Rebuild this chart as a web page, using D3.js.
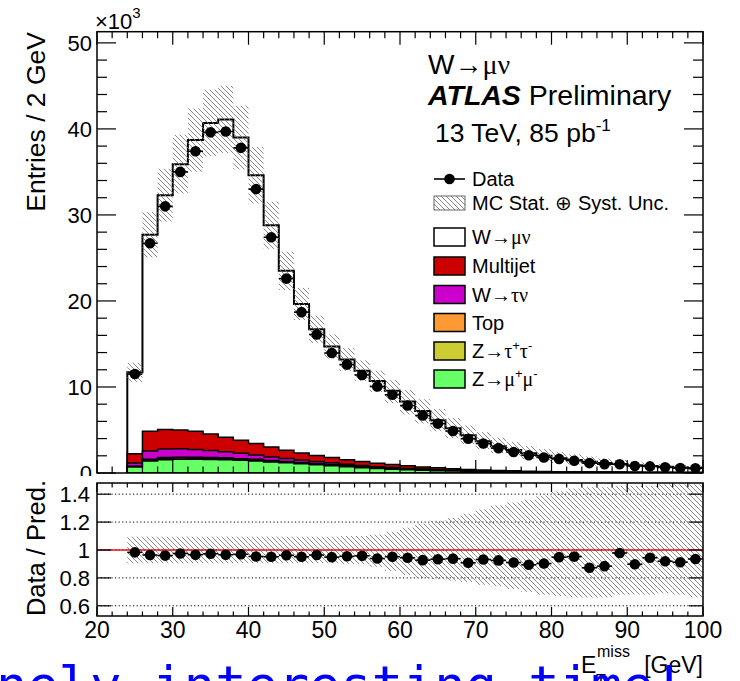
<!DOCTYPE html>
<html>
<head>
<meta charset="utf-8">
<script src="https://cdn.jsdelivr.net/npm/d3@7"></script>
<style>
  body { margin: 0; background: #fff; }
  svg { display: block; font-family: "Liberation Sans", Arial, Helvetica, sans-serif; }
</style>
</head>
<body>
<svg id="chart" width="740" height="681"></svg>
<script>
// ---- binning: 2 GeV bins of E_T^miss, lower edges ----
const binLow = [24, 26, 28, 30, 32, 34, 36, 38, 40, 42, 44, 46, 48, 50, 52, 54, 56, 58, 60,
                62, 64, 66, 68, 70, 72, 74, 76, 78, 80, 82, 84, 86, 88, 90, 92, 94, 96, 98];
const binWidth = 2;

// ---- observed events per bin (x10^3) ----
const dataCounts = [11.5, 26.7, 31.0, 35.0, 37.4, 39.6, 39.7, 37.8, 33.0, 27.4, 22.6, 18.7, 16.1,
                    13.95, 12.6, 11.4, 10.05, 9.09, 7.84, 6.68, 5.74, 4.88, 3.98, 3.43, 2.89, 2.44,
                    2.06, 1.81, 1.64, 1.43, 1.15, 1.03, 1.01, 0.82, 0.77, 0.66, 0.585, 0.54];

// ---- simulated processes per bin (x10^3) ----
const wmunu = [9.46, 22.84, 27.23, 30.89, 33.86, 36.18, 36.94, 35.19, 31.17, 25.78, 20.85, 17.32,
               14.66, 12.90, 11.65, 10.56, 9.56, 8.57, 7.47, 6.50, 5.55, 4.70, 3.96, 3.33, 2.83,
               2.43, 2.09, 1.82, 1.57, 1.36, 1.19, 1.05, 0.93, 0.82, 0.73, 0.64, 0.57, 0.51];
const multijet = [1.08, 2.3, 2.28, 2.2, 2.12, 1.9, 1.68, 1.52, 1.35, 1.15, 0.95, 0.82, 0.7, 0.62,
                  0.54, 0.47, 0.41, 0.35, 0.3, 0.25, 0.21, 0.17, 0.14, 0.11, 0.09, 0.075, 0.06,
                  0.05, 0.04, 0.035, 0.03, 0.025, 0.02, 0.018, 0.015, 0.013, 0.011, 0.01];
const wtaunu = [0.37, 0.95, 1.0, 0.98, 0.9, 0.82, 0.72, 0.62, 0.5, 0.42, 0.36, 0.3, 0.25, 0.21,
                0.17, 0.14, 0.115, 0.095, 0.078, 0.064, 0.052, 0.043, 0.035, 0.029, 0.024, 0.02,
                0.017, 0.014, 0.012, 0.01, 0.009, 0.008, 0.007, 0.006, 0.005, 0.005, 0.004, 0.004];
const topQuark = [0.04, 0.09, 0.1, 0.1, 0.1, 0.1, 0.1, 0.1, 0.095, 0.09, 0.088, 0.085, 0.082,
                  0.079, 0.076, 0.073, 0.07, 0.067, 0.064, 0.061, 0.058, 0.056, 0.054, 0.052,
                  0.05, 0.048, 0.046, 0.044, 0.042, 0.041, 0.04, 0.038, 0.037, 0.036, 0.035,
                  0.034, 0.033, 0.032];
const ztautau = [0.05, 0.12, 0.14, 0.14, 0.13, 0.12, 0.11, 0.1, 0.09, 0.08, 0.07, 0.06, 0.052,
                 0.045, 0.04, 0.035, 0.03, 0.026, 0.022, 0.019, 0.016, 0.014, 0.012, 0.01, 0.009,
                 0.008, 0.007, 0.006, 0.005, 0.005, 0.004, 0.004, 0.003, 0.003, 0.003, 0.002,
                 0.002, 0.002];
const zmumu = [0.70, 1.40, 1.55, 1.59, 1.59, 1.58, 1.55, 1.47, 1.40, 1.28, 1.18, 1.07, 0.96, 0.85,
               0.72, 0.62, 0.52, 0.44, 0.37, 0.31, 0.26, 0.22, 0.18, 0.15, 0.12, 0.10, 0.085,
               0.07, 0.06, 0.05, 0.045, 0.04, 0.035, 0.03, 0.027, 0.024, 0.021, 0.019];

// ---- relative MC stat. + syst. uncertainty (up / down) ----
const uncUp = [0.095, 0.095, 0.095, 0.095, 0.095, 0.095, 0.095, 0.095, 0.095, 0.095, 0.095,
               0.095, 0.095, 0.095, 0.10, 0.10, 0.11, 0.13, 0.16, 0.19, 0.21, 0.23, 0.26, 0.29,
               0.32, 0.34, 0.36, 0.39, 0.42, 0.44, 0.45, 0.45, 0.46, 0.46, 0.46, 0.47, 0.47, 0.47];
const uncDown = [0.095, 0.095, 0.095, 0.095, 0.095, 0.095, 0.095, 0.095, 0.095, 0.095, 0.095,
                 0.095, 0.095, 0.095, 0.10, 0.10, 0.12, 0.15, 0.18, 0.20, 0.21, 0.22, 0.23, 0.25,
                 0.26, 0.28, 0.30, 0.32, 0.33, 0.34, 0.34, 0.34, 0.32, 0.32, 0.32, 0.31, 0.32, 0.34];

// ---- axis ticks ----
const xMajorTicks = [20, 30, 40, 50, 60, 70, 80, 90, 100];
const xTickLabels = ["20", "30", "40", "50", "60", "70", "80", "90", "100"];
const yMajorTicks = [0, 10, 20, 30, 40, 50];
const yTickLabels = ["0", "10", "20", "30", "40", "50"];
const rMajorTicks = [0.6, 0.8, 1.0, 1.2, 1.4];
const rTickLabels = ["0.6", "0.8", "1", "1.2", "1.4"];

// ---- stack definition, bottom to top ----
const stackLayers = [
  { name: "zmumu",    values: zmumu,    color: "#66ff66" },
  { name: "ztautau",  values: ztautau,  color: "#cccc33" },
  { name: "top",      values: topQuark, color: "#ff9933" },
  { name: "wtaunu",   values: wtaunu,   color: "#cc00cc" },
  { name: "multijet", values: multijet, color: "#cc0000" },
  { name: "wmunu",    values: wmunu,    color: "#ffffff" }
];

const svg = d3.select("#chart");

// Scales
const x = d3.scaleLinear().domain([20, 100]).range([97, 703]);
const y = d3.scaleLinear().domain([0, 51.3]).range([473, 31.7]);
const yr = d3.scaleLinear().domain([0.527, 1.48]).range([616, 483]);

const defs = svg.append("defs");
const pat = defs.append("pattern").attr("id", "hatch")
  .attr("patternUnits", "userSpaceOnUse").attr("width", 5).attr("height", 5);
pat.append("path").attr("d", "M-1,-1 L6,6 M-1,4 L1,6 M4,-1 L6,1")
  .attr("stroke", "#7a7a7a").attr("stroke-width", 0.9).attr("fill", "none");

defs.append("clipPath").attr("id", "clipMain").append("rect")
  .attr("x", x(20)).attr("y", y(51.3)).attr("width", x(100) - x(20)).attr("height", y(0) - y(51.3));
defs.append("clipPath").attr("id", "clipRatio").append("rect")
  .attr("x", x(20)).attr("y", yr(1.48)).attr("width", x(100) - x(20)).attr("height", yr(0.527) - yr(1.48));
defs.append("clipPath").attr("id", "clipTopPad").append("rect")
  .attr("x", 0).attr("y", 0).attr("width", 740).attr("height", 476);

// Cumulative stack sums
const cumulative = [];
stackLayers.forEach((layer, k) => {
  cumulative.push(layer.values.map((v, i) => v + (k > 0 ? cumulative[k - 1][i] : 0)));
});
const mcTotal = cumulative[cumulative.length - 1];

// Step outline of a histogram
function stepPath(vals, ys) {
  const p = d3.path();
  p.moveTo(x(binLow[0]), ys(0));
  vals.forEach((v, i) => {
    p.lineTo(x(binLow[i]), ys(v));
    p.lineTo(x(binLow[i] + binWidth), ys(v));
  });
  p.lineTo(x(binLow[binLow.length - 1] + binWidth), ys(0));
  p.closePath();
  return p.toString();
}

// ================= main pad =================
const main = svg.append("g").attr("clip-path", "url(#clipTopPad)");
const plot = main.append("g").attr("clip-path", "url(#clipMain)");

// stacked histograms: draw from the total downwards
for (let k = stackLayers.length - 1; k >= 0; k--) {
  plot.append("path")
    .attr("d", stepPath(cumulative[k], y))
    .attr("fill", stackLayers[k].color)
    .attr("stroke", "#000")
    .attr("stroke-width", k === stackLayers.length - 1 ? 2 : 1.5)
    .attr("stroke-linejoin", "miter");
}

// uncertainty band
plot.append("g").selectAll("rect").data(binLow).join("rect")
  .attr("x", d => x(d))
  .attr("width", x(binWidth + 20) - x(20))
  .attr("y", (d, i) => y(mcTotal[i] * (1 + uncUp[i])))
  .attr("height", (d, i) => y(mcTotal[i] * (1 - uncDown[i])) - y(mcTotal[i] * (1 + uncUp[i])))
  .attr("fill", "url(#hatch)");

// data points
const dataG = plot.append("g");
dataG.selectAll("line").data(binLow).join("line")
  .attr("x1", d => x(d)).attr("x2", d => x(d + binWidth))
  .attr("y1", (d, i) => y(dataCounts[i])).attr("y2", (d, i) => y(dataCounts[i]))
  .attr("stroke", "#000").attr("stroke-width", 1.6);
dataG.selectAll("circle").data(binLow).join("circle")
  .attr("cx", d => x(d + binWidth / 2))
  .attr("cy", (d, i) => y(dataCounts[i]))
  .attr("r", 5.3).attr("fill", "#000");

// ticks of the main pad
const ticksMain = main.append("g").attr("stroke", "#000").attr("stroke-width", 1.2);
const yMinor = d3.range(0, 51.3, 2);
yMinor.forEach(v => {
  const major = yMajorTicks.includes(v);
  const len = major ? 19 : 10;
  ticksMain.append("line").attr("x1", x(20)).attr("x2", x(20) + len).attr("y1", y(v)).attr("y2", y(v));
  ticksMain.append("line").attr("x1", x(100)).attr("x2", x(100) - len).attr("y1", y(v)).attr("y2", y(v));
});
const xMinor = d3.range(20, 100.1, 2);
xMinor.forEach(v => {
  const major = xMajorTicks.includes(v);
  const len = major ? 13 : 6.5;
  ticksMain.append("line").attr("x1", x(v)).attr("x2", x(v)).attr("y1", y(0)).attr("y2", y(0) - len);
  ticksMain.append("line").attr("x1", x(v)).attr("x2", x(v)).attr("y1", y(51.3)).attr("y2", y(51.3) + len);
});

// frame
main.append("rect").attr("x", x(20)).attr("y", y(51.3))
  .attr("width", x(100) - x(20)).attr("height", y(0) - y(51.3))
  .attr("fill", "none").attr("stroke", "#000").attr("stroke-width", 1.5);

// y labels
main.append("g").selectAll("text").data(yMajorTicks).join("text")
  .attr("x", 92).attr("y", d => y(d) + 8).attr("text-anchor", "end")
  .attr("font-size", 22).text((d, i) => yTickLabels[i]);

// exponent label
const expo = svg.append("text").attr("x", 95).attr("y", 29).attr("font-size", 22);
expo.append("tspan").text("\u00d710");
expo.append("tspan").attr("font-size", 15).attr("dy", -11).text("3");

// y title
svg.append("text")
  .attr("transform", "translate(45,32) rotate(-90)")
  .attr("text-anchor", "end").attr("font-size", 26.5)
  .text("Entries / 2 GeV");

// ================= ratio pad =================
const ratio = svg.append("g");
const rplot = ratio.append("g").attr("clip-path", "url(#clipRatio)");

// dotted reference lines
rMajorTicks.forEach(v => {
  rplot.append("line").attr("x1", x(20)).attr("x2", x(100)).attr("y1", yr(v)).attr("y2", yr(v))
    .attr("stroke", "#000").attr("stroke-width", 1).attr("stroke-dasharray", "1.2,2.4");
});

// uncertainty band in the ratio
rplot.append("g").selectAll("rect").data(binLow).join("rect")
  .attr("x", d => x(d))
  .attr("width", x(binWidth + 20) - x(20))
  .attr("y", (d, i) => yr(1 + uncUp[i]))
  .attr("height", (d, i) => yr(1 - uncDown[i]) - yr(1 + uncUp[i]))
  .attr("fill", "url(#hatch)");

// unity line
rplot.append("line").attr("x1", x(20)).attr("x2", x(100)).attr("y1", yr(1)).attr("y2", yr(1))
  .attr("stroke", "#e8141e").attr("stroke-width", 1.6);

// data / prediction points
const ratioVals = dataCounts.map((d, i) => d / mcTotal[i]);
rplot.append("g").selectAll("line").data(binLow).join("line")
  .attr("x1", d => x(d)).attr("x2", d => x(d + binWidth))
  .attr("y1", (d, i) => yr(ratioVals[i])).attr("y2", (d, i) => yr(ratioVals[i]))
  .attr("stroke", "#000").attr("stroke-width", 1.6);
rplot.append("g").selectAll("circle").data(binLow).join("circle")
  .attr("cx", d => x(d + binWidth / 2))
  .attr("cy", (d, i) => yr(ratioVals[i]))
  .attr("r", 5.3).attr("fill", "#000");

// ticks of the ratio pad
const ticksR = ratio.append("g").attr("stroke", "#000").attr("stroke-width", 1.2);
rMajorTicks.forEach(v => {
  ticksR.append("line").attr("x1", x(20)).attr("x2", x(20) + 14).attr("y1", yr(v)).attr("y2", yr(v));
  ticksR.append("line").attr("x1", x(100)).attr("x2", x(100) - 14).attr("y1", yr(v)).attr("y2", yr(v));
});
xMinor.forEach(v => {
  const major = xMajorTicks.includes(v);
  const len = major ? 9 : 4.5;
  ticksR.append("line").attr("x1", x(v)).attr("x2", x(v)).attr("y1", yr(0.527)).attr("y2", yr(0.527) - len);
  ticksR.append("line").attr("x1", x(v)).attr("x2", x(v)).attr("y1", yr(1.48)).attr("y2", yr(1.48) + len);
});

ratio.append("rect").attr("x", x(20)).attr("y", yr(1.48))
  .attr("width", x(100) - x(20)).attr("height", yr(0.527) - yr(1.48))
  .attr("fill", "none").attr("stroke", "#000").attr("stroke-width", 1.5);

ratio.append("g").selectAll("text").data(rMajorTicks).join("text")
  .attr("x", 90).attr("y", d => yr(d) + 8).attr("text-anchor", "end")
  .attr("font-size", 22).text((d, i) => rTickLabels[i]);

ratio.append("g").selectAll("text").data(xMajorTicks).join("text")
  .attr("x", d => x(d)).attr("y", 638).attr("text-anchor", "middle")
  .attr("font-size", 23).text((d, i) => xTickLabels[i]);

svg.append("text")
  .attr("transform", "translate(45,480) rotate(-90)")
  .attr("text-anchor", "end").attr("font-size", 25.5)
  .text("Data / Pred.");

// x title: E_T^miss [GeV]
svg.append("text").attr("x", 703).attr("y", 673).attr("text-anchor", "end").attr("font-size", 23).text("[GeV]");
svg.append("text").attr("x", 581).attr("y", 673).attr("font-size", 23).text("E");
svg.append("text").attr("x", 597).attr("y", 657).attr("font-size", 16).text("miss");
svg.append("text").attr("x", 596).attr("y", 686).attr("font-size", 16).text("T");

// ================= labels =================
const serif = '"Liberation Serif", "DejaVu Serif", serif';
function richText(g, xPos, yPos, size, parts) {
  const t = g.append("text").attr("x", xPos).attr("y", yPos).attr("font-size", size);
  parts.forEach(p => {
    const s = t.append("tspan").text(p.t);
    if (p.serif) s.attr("font-family", serif);
    if (p.sup) s.attr("font-size", size * 0.65).attr("dy", -size * 0.42);
    if (p.down) s.attr("dy", size * 0.42);
    if (p.bold) s.attr("font-weight", "bold").attr("font-style", "italic");
  });
  return t;
}

richText(svg, 428, 74, 28, [{ t: "W\u2192" }, { t: "\u03bc\u03bd", serif: true }]);
richText(svg, 428, 105, 28.5, [{ t: "ATLAS", bold: true }, { t: " Preliminary" }]);
richText(svg, 435, 142, 26.5, [{ t: "13 TeV, 85 pb" }, { t: "-1", sup: true }]);

// legend
const legendRows = [
  { kind: "data", label: [{ t: "Data" }], cy: 179 },
  { kind: "band", label: [{ t: "MC Stat. \u2295 Syst. Unc." }], cy: 203 },
  { kind: "box", color: "#ffffff", label: [{ t: "W\u2192" }, { t: "\u03bc\u03bd", serif: true }], cy: 237 },
  { kind: "box", color: "#cc0000", label: [{ t: "Multijet" }], cy: 266 },
  { kind: "box", color: "#cc00cc", label: [{ t: "W\u2192" }, { t: "\u03c4\u03bd", serif: true }], cy: 294.5 },
  { kind: "box", color: "#ff9933", label: [{ t: "Top" }], cy: 322.5 },
  { kind: "box", color: "#cccc33", label: [{ t: "Z\u2192" }, { t: "\u03c4", serif: true }, { t: "+", sup: true },
      { t: "\u03c4", serif: true, down: true }, { t: "-", sup: true }], cy: 351 },
  { kind: "box", color: "#66ff66", label: [{ t: "Z\u2192" }, { t: "\u03bc", serif: true }, { t: "+", sup: true },
      { t: "\u03bc", serif: true, down: true }, { t: "-", sup: true }], cy: 379 }
];
const legend = svg.append("g");
legendRows.forEach(r => {
  if (r.kind === "data") {
    legend.append("line").attr("x1", 434).attr("x2", 465).attr("y1", r.cy).attr("y2", r.cy)
      .attr("stroke", "#000").attr("stroke-width", 1.6);
    legend.append("circle").attr("cx", 449.5).attr("cy", r.cy).attr("r", 5.3).attr("fill", "#000");
  } else if (r.kind === "band") {
    legend.append("rect").attr("x", 434).attr("y", r.cy - 7).attr("width", 31).attr("height", 14)
      .attr("fill", "url(#hatch)").attr("stroke", "#666").attr("stroke-width", 1);
  } else {
    legend.append("rect").attr("x", 434).attr("y", r.cy - 9).attr("width", 31).attr("height", 18)
      .attr("fill", r.color).attr("stroke", "#000").attr("stroke-width", 1.5);
  }
  richText(legend, 472, r.cy + 7, 20, r.label);
});

// caption running off the bottom edge
svg.append("text").attr("x", -4).attr("y", 703)
  .attr("font-family", '"DejaVu Sans Mono", monospace').attr("font-size", 52)
  .attr("fill", "#0000ff").text("nely interesting time!");
</script>
</body>
</html>
